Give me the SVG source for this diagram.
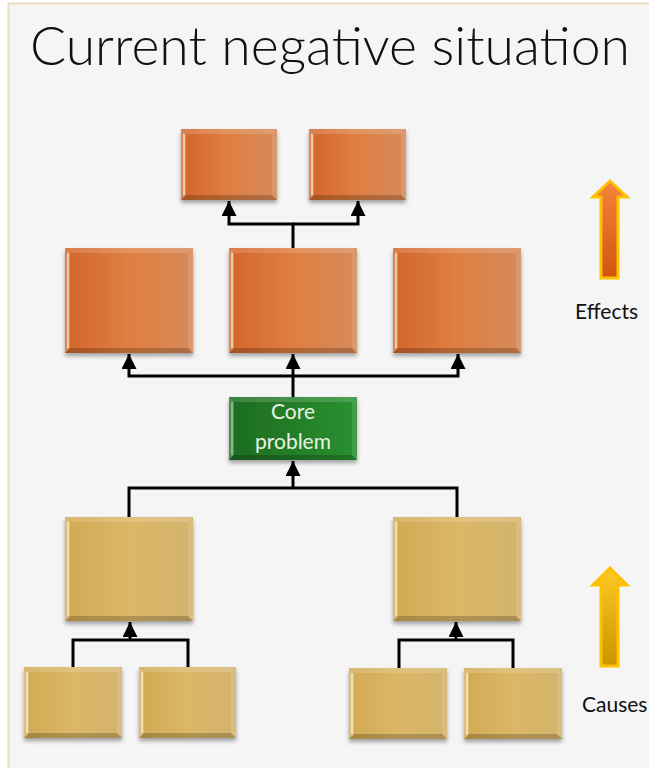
<svg xmlns="http://www.w3.org/2000/svg" width="649" height="768" viewBox="0 0 649 768">
<style>
.title{font-family:Lato,"Open Sans","Liberation Sans",sans-serif;font-weight:300;font-size:54px;fill:#111}
.lbl{font-family:Lato,"Open Sans","Liberation Sans",sans-serif;font-size:21px;fill:#111}
.core{font-family:Lato,"Open Sans","Liberation Sans",sans-serif;font-size:21px;fill:#e8f2e2;text-anchor:middle}
.orange{fill:url(#gOr)}
.gold{fill:url(#gGo)}
.green{fill:url(#gGr)}
.bt{fill:#fff;fill-opacity:.16}
.bb{fill:#000;fill-opacity:.2}
.bl{fill:#fff;fill-opacity:.22}
.br{fill:#fff;fill-opacity:.12}
.hl{stroke:#fff2c8;stroke-opacity:.85;stroke-width:1.5}
.conn path{fill:none;stroke:#000;stroke-width:3;stroke-linejoin:miter}
.arr{marker-end:url(#ah)}
</style>
<defs>
<linearGradient id="gOr" x1="0" y1="0" x2="1" y2="0">
<stop offset="0" stop-color="#d2652b"/><stop offset="0.5" stop-color="#df7f42"/><stop offset="1" stop-color="#d68a5a"/>
</linearGradient>
<linearGradient id="gGo" x1="0" y1="0" x2="1" y2="0">
<stop offset="0" stop-color="#d2a954"/><stop offset="0.5" stop-color="#dbb766"/><stop offset="1" stop-color="#d3b46e"/>
</linearGradient>
<linearGradient id="gGr" x1="0" y1="0" x2="1" y2="0">
<stop offset="0" stop-color="#1d6b1f"/><stop offset="1" stop-color="#2a9131"/>
</linearGradient>
<linearGradient id="gEf" x1="0" y1="0" x2="0" y2="1">
<stop offset="0" stop-color="#f5843a"/><stop offset="1" stop-color="#d0560f"/>
</linearGradient>
<linearGradient id="gCa" x1="0" y1="0" x2="0" y2="1">
<stop offset="0" stop-color="#ffc825"/><stop offset="1" stop-color="#c89500"/>
</linearGradient>
<filter id="sh" x="-10%" y="-10%" width="120%" height="130%">
<feDropShadow dx="0" dy="3" stdDeviation="2" flood-color="#000" flood-opacity="0.35"/>
</filter>
<marker id="ah" viewBox="0 0 10 10" refX="10" refY="5" markerWidth="15" markerHeight="15" markerUnits="userSpaceOnUse" orient="auto">
<path d="M0,0 L10,5 L0,10 z" fill="#000"/>
</marker>
</defs>
<rect x="0" y="0" width="649" height="768" fill="#fff"/>
<rect x="8.5" y="3.5" width="660" height="780" fill="#f5f5f5" stroke="#ecdcbf" stroke-width="2"/>
<text class="title" x="30" y="65" textLength="600" lengthAdjust="spacingAndGlyphs">Current negative situation</text>

<g class="conn" id="connectors">
<path d="M293,248 V224 H229 V201" class="arr"/>
<path d="M293,224 H358 V201" class="arr"/>
<path d="M293,397 V376 H129 V354" class="arr"/>
<path d="M293,376 H458 V354" class="arr"/>
<path d="M293,376 V354" class="arr"/>
<path d="M129,517 V488 H457 V517"/>
<path d="M293,488 V461" class="arr"/>
<path d="M73,667 V640 H188 V667"/>
<path d="M130,640 V622" class="arr"/>
<path d="M399,668 V640 H513 V668"/>
<path d="M456,640 V622" class="arr"/>
</g>

<g id="effect1">
<rect class="orange" x="181" y="129" width="96" height="71" filter="url(#sh)"/>
<path class="bt" d="M181,129 h96 l-5,5 h-86 z"/><path class="bb" d="M181,200 h96 l-5,-5 h-86 z"/>
<path class="bl" d="M181,129 l5,5 v61 l-5,5 z"/><path class="br" d="M277,129 l-5,5 v61 l5,5 z"/>
<path class="hl" d="M184,134 V195"/>
</g>
<g id="effect2">
<rect class="orange" x="309" y="129" width="97" height="71" filter="url(#sh)"/>
<path class="bt" d="M309,129 h97 l-5,5 h-87 z"/><path class="bb" d="M309,200 h97 l-5,-5 h-87 z"/>
<path class="bl" d="M309,129 l5,5 v61 l-5,5 z"/><path class="br" d="M406,129 l-5,5 v61 l5,5 z"/>
<path class="hl" d="M312,134 V195"/>
</g>
<g id="effect3">
<rect class="orange" x="65" y="248" width="128" height="105" filter="url(#sh)"/>
<path class="bt" d="M65,248 h128 l-5,5 h-118 z"/><path class="bb" d="M65,353 h128 l-5,-5 h-118 z"/>
<path class="bl" d="M65,248 l5,5 v95 l-5,5 z"/><path class="br" d="M193,248 l-5,5 v95 l5,5 z"/>
<path class="hl" d="M68,253 V348"/>
</g>
<g id="effect4">
<rect class="orange" x="229" y="248" width="128" height="105" filter="url(#sh)"/>
<path class="bt" d="M229,248 h128 l-5,5 h-118 z"/><path class="bb" d="M229,353 h128 l-5,-5 h-118 z"/>
<path class="bl" d="M229,248 l5,5 v95 l-5,5 z"/><path class="br" d="M357,248 l-5,5 v95 l5,5 z"/>
<path class="hl" d="M232,253 V348"/>
</g>
<g id="effect5">
<rect class="orange" x="393" y="248" width="128" height="105" filter="url(#sh)"/>
<path class="bt" d="M393,248 h128 l-5,5 h-118 z"/><path class="bb" d="M393,353 h128 l-5,-5 h-118 z"/>
<path class="bl" d="M393,248 l5,5 v95 l-5,5 z"/><path class="br" d="M521,248 l-5,5 v95 l5,5 z"/>
<path class="hl" d="M396,253 V348"/>
</g>

<g id="core">
<rect class="green" x="229" y="397" width="128" height="63" filter="url(#sh)"/>
<path class="bt" d="M229,397 h128 l-5,5 h-118 z"/><path class="bb" d="M229,460 h128 l-5,-5 h-118 z"/>
<path class="bl" d="M229,397 l5,5 v53 l-5,5 z"/><path class="br" d="M357,397 l-5,5 v53 l5,5 z"/>
<path class="hl" d="M232,402 V455" style="stroke:#c8f0c0;stroke-opacity:.6"/>
<text class="core" x="293" y="419">Core</text>
<text class="core" x="293" y="449">problem</text>
</g>

<g id="cause1">
<rect class="gold" x="65" y="517" width="128" height="104" filter="url(#sh)"/>
<path class="bt" d="M65,517 h128 l-5,5 h-118 z"/><path class="bb" d="M65,621 h128 l-5,-5 h-118 z"/>
<path class="bl" d="M65,517 l5,5 v94 l-5,5 z"/><path class="br" d="M193,517 l-5,5 v94 l5,5 z"/>
<path class="hl" d="M68,522 V616"/>
</g>
<g id="cause2">
<rect class="gold" x="393" y="517" width="128" height="104" filter="url(#sh)"/>
<path class="bt" d="M393,517 h128 l-5,5 h-118 z"/><path class="bb" d="M393,621 h128 l-5,-5 h-118 z"/>
<path class="bl" d="M393,517 l5,5 v94 l-5,5 z"/><path class="br" d="M521,517 l-5,5 v94 l5,5 z"/>
<path class="hl" d="M396,522 V616"/>
</g>
<g id="cause3">
<rect class="gold" x="24" y="667" width="98" height="71" filter="url(#sh)"/>
<path class="bt" d="M24,667 h98 l-5,5 h-88 z"/><path class="bb" d="M24,738 h98 l-5,-5 h-88 z"/>
<path class="bl" d="M24,667 l5,5 v61 l-5,5 z"/><path class="br" d="M122,667 l-5,5 v61 l5,5 z"/>
<path class="hl" d="M27,672 V733"/>
</g>
<g id="cause4">
<rect class="gold" x="139" y="667" width="97" height="71" filter="url(#sh)"/>
<path class="bt" d="M139,667 h97 l-5,5 h-87 z"/><path class="bb" d="M139,738 h97 l-5,-5 h-87 z"/>
<path class="bl" d="M139,667 l5,5 v61 l-5,5 z"/><path class="br" d="M236,667 l-5,5 v61 l5,5 z"/>
<path class="hl" d="M142,672 V733"/>
</g>
<g id="cause5">
<rect class="gold" x="349" y="668" width="98" height="71" filter="url(#sh)"/>
<path class="bt" d="M349,668 h98 l-5,5 h-88 z"/><path class="bb" d="M349,739 h98 l-5,-5 h-88 z"/>
<path class="bl" d="M349,668 l5,5 v61 l-5,5 z"/><path class="br" d="M447,668 l-5,5 v61 l5,5 z"/>
<path class="hl" d="M352,673 V734"/>
</g>
<g id="cause6">
<rect class="gold" x="464" y="668" width="98" height="71" filter="url(#sh)"/>
<path class="bt" d="M464,668 h98 l-5,5 h-88 z"/><path class="bb" d="M464,739 h98 l-5,-5 h-88 z"/>
<path class="bl" d="M464,668 l5,5 v61 l-5,5 z"/><path class="br" d="M562,668 l-5,5 v61 l5,5 z"/>
<path class="hl" d="M467,673 V734"/>
</g>

<g id="effects-legend">
<path d="M610,181 L627,197 L618,197 L618,278 L601,278 L601,197 L593,197 Z" fill="url(#gEf)" stroke="#ffc000" stroke-width="3" stroke-linejoin="miter"/>
<text class="lbl" x="575" y="319">Effects</text>
</g>
<g id="causes-legend">
<path d="M610,568 L627,585 L618,585 L618,666 L601,666 L601,585 L593,585 Z" fill="url(#gCa)" stroke="#ffc000" stroke-width="3" stroke-linejoin="miter"/>
<text class="lbl" x="582" y="712">Causes</text>
</g>
</svg>
